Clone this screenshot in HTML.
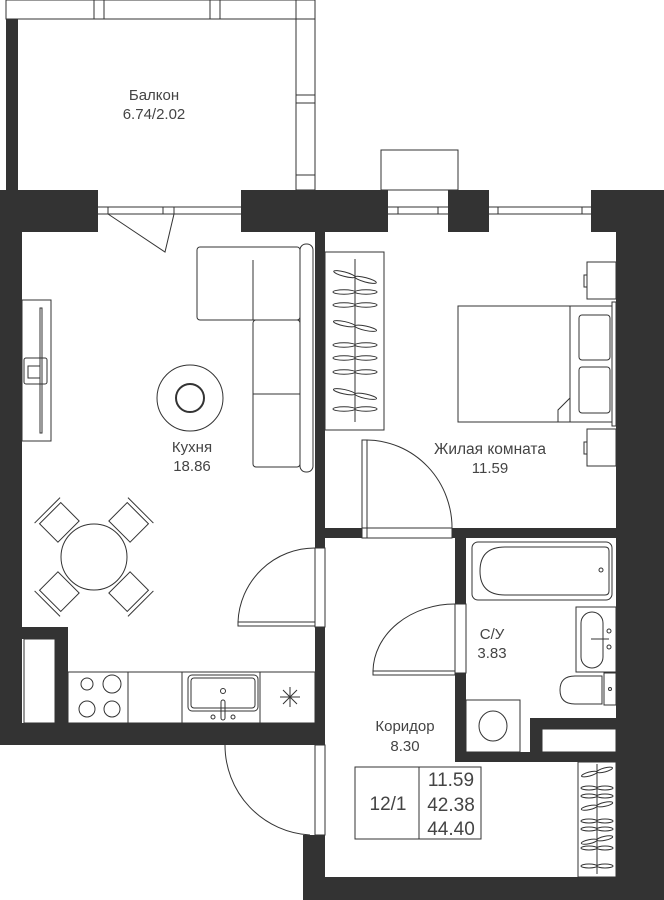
<!DOCTYPE html>
<html><head><meta charset="utf-8"><style>
html,body{margin:0;padding:0;background:#fff;}
svg{display:block;}
text{font-family:"Liberation Sans",sans-serif;fill:#444;text-anchor:middle;}
</style></head><body>
<svg width="664" height="900" viewBox="0 0 664 900" xmlns="http://www.w3.org/2000/svg">
<defs>
<g id="hg"><ellipse cx="-11" cy="0" rx="11" ry="2.2" fill="none" stroke="#333"/><ellipse cx="11" cy="0" rx="11" ry="2.2" fill="none" stroke="#333"/></g>
<g id="hs"><ellipse cx="-8" cy="0" rx="8" ry="2" fill="none" stroke="#333"/><ellipse cx="8" cy="0" rx="8" ry="2" fill="none" stroke="#333"/></g>
</defs>
<g fill="none" stroke="#333" stroke-width="1">
<rect x="6" y="0" width="309" height="19"/>
<line x1="94" y1="0" x2="94" y2="19"/><line x1="104" y1="0" x2="104" y2="19"/>
<line x1="210" y1="0" x2="210" y2="19"/><line x1="220" y1="0" x2="220" y2="19"/>
<rect x="296" y="0" width="19" height="190"/>
<line x1="296" y1="95" x2="315" y2="95"/><line x1="296" y1="103" x2="315" y2="103"/>
<line x1="296" y1="175" x2="315" y2="175"/>
<rect x="381" y="150" width="77" height="40"/>
</g>
<g fill="#333">
<rect x="6" y="19" width="12" height="171"/>
<rect x="0" y="190" width="98" height="42"/>
<rect x="241" y="190" width="147" height="42"/>
<rect x="448" y="190" width="41" height="42"/>
<rect x="591" y="190" width="73" height="42"/>
<rect x="0" y="190" width="22" height="555"/>
<rect x="22" y="627" width="46" height="12"/>
<rect x="55" y="627" width="13" height="96"/>
<rect x="0" y="723" width="325" height="22"/>
<rect x="315" y="232" width="10" height="316"/>
<rect x="315" y="627" width="10" height="96"/>
<rect x="315" y="528" width="47" height="10"/>
<rect x="452" y="528" width="164" height="10"/>
<rect x="455" y="538" width="11" height="66"/>
<rect x="455" y="673" width="11" height="89"/>
<rect x="455" y="752" width="161" height="10"/>
<rect x="530" y="718" width="12" height="34"/>
<rect x="530" y="718" width="86" height="11"/>
<rect x="616" y="190" width="48" height="710"/>
<rect x="303" y="835" width="22" height="65"/>
<rect x="303" y="877" width="361" height="23"/>
</g>
<g fill="#fff" stroke="#333" stroke-width="1">
<rect x="24" y="639" width="31" height="84"/>
<rect x="542" y="729" width="74" height="23"/>
</g>
<g fill="none" stroke="#333" stroke-width="1">
<line x1="98" y1="207" x2="241" y2="207"/><line x1="98" y1="214" x2="241" y2="214"/>
<line x1="108" y1="207" x2="108" y2="214"/><line x1="163" y1="207" x2="163" y2="214"/><line x1="174" y1="207" x2="174" y2="214"/>
<polyline points="108,214 165,252 174,214"/>
<line x1="388" y1="207" x2="448" y2="207"/><line x1="388" y1="214" x2="448" y2="214"/>
<line x1="398" y1="207" x2="398" y2="214"/><line x1="438" y1="207" x2="438" y2="214"/>
<line x1="489" y1="207" x2="591" y2="207"/><line x1="489" y1="214" x2="591" y2="214"/>
<line x1="498" y1="207" x2="498" y2="214"/><line x1="582" y1="207" x2="582" y2="214"/>
<rect x="197" y="247" width="103" height="73" rx="3"/>
<rect x="253" y="320" width="47" height="147" rx="3"/>
<line x1="253" y1="260" x2="253" y2="320"/>
<line x1="253" y1="394" x2="300" y2="394"/>
<rect x="300" y="244" width="13" height="228" rx="6"/>
<circle cx="190" cy="398" r="33"/>
<circle cx="190" cy="398" r="14" stroke-width="2"/>
<rect x="22" y="300" width="29" height="141"/>
<rect x="40" y="308" width="2" height="125"/>
<rect x="24" y="358" width="23" height="26" rx="2"/>
<rect x="28" y="366" width="12" height="12"/>
<rect x="325" y="252" width="59" height="178"/>
<line x1="355" y1="259" x2="355" y2="422"/>
<rect x="458" y="306" width="112" height="116"/>
<rect x="570" y="306" width="42" height="116"/>
<rect x="612" y="302" width="4" height="124"/>
<rect x="579" y="315" width="31" height="45" rx="3"/>
<rect x="579" y="367" width="31" height="46" rx="3"/>
<polyline points="558,422 558,410 570,398"/>
<rect x="587" y="262" width="29" height="37"/><rect x="584" y="275" width="3" height="12"/>
<rect x="587" y="429" width="29" height="37"/><rect x="584" y="442" width="3" height="12"/>
<rect x="362" y="440" width="5" height="98"/>
<path d="M367 440 A 86 88 0 0 1 452 530"/>
<rect x="362" y="528" width="90" height="10"/>
<rect x="238" y="622" width="77" height="4"/>
<path d="M238 622 A 77 77 0 0 1 315 548"/>
<rect x="315" y="548" width="10" height="79"/>
<rect x="373" y="671" width="82" height="4"/>
<path d="M373 671 A 82 68 0 0 1 455 604"/>
<rect x="455" y="604" width="11" height="69"/>
<path d="M225 745 A 90 90 0 0 0 310 835"/>
<rect x="315" y="745" width="10" height="90"/>
<g transform="translate(94 557)">
<g transform="rotate(-45)"><rect x="-15" y="-62" width="30" height="26"/><line x1="-18" y1="-66" x2="18" y2="-66"/></g>
<g transform="rotate(45)"><rect x="-15" y="-62" width="30" height="26"/><line x1="-18" y1="-66" x2="18" y2="-66"/></g>
<g transform="rotate(135)"><rect x="-15" y="-62" width="30" height="26"/><line x1="-18" y1="-66" x2="18" y2="-66"/></g>
<g transform="rotate(225)"><rect x="-15" y="-62" width="30" height="26"/><line x1="-18" y1="-66" x2="18" y2="-66"/></g>
</g>
<ellipse cx="94" cy="557" rx="33" ry="33" fill="#fff"/>
<rect x="68" y="672" width="247" height="51"/>
<line x1="128" y1="672" x2="128" y2="723"/><line x1="182" y1="672" x2="182" y2="723"/><line x1="260" y1="672" x2="260" y2="723"/>
<circle cx="87" cy="684" r="6"/><circle cx="112" cy="684" r="9"/><circle cx="87" cy="709" r="8"/><circle cx="112" cy="709" r="8"/>
<rect x="188" y="675" width="70" height="36" rx="4"/><rect x="191" y="678" width="64" height="30" rx="3"/>
<circle cx="223" cy="691" r="2.5"/><rect x="221" y="700" width="4" height="20" rx="2"/>
<circle cx="213" cy="717" r="2"/><circle cx="233" cy="717" r="2"/>
<path d="M280 697 L300 697 M290 687 L290 707 M283 690 L297 704 M297 690 L283 704"/>
<rect x="472" y="542" width="140" height="58" rx="6"/>
<path d="M505 547 L605 547 Q609 547 609 551 L609 591 Q609 595 605 595 L505 595 Q480 595 480 571 Q480 547 505 547 Z"/>
<circle cx="601" cy="570" r="2"/>
<rect x="576" y="607" width="40" height="65"/>
<rect x="581" y="612" width="22" height="56" rx="11"/>
<circle cx="609" cy="631" r="2"/><circle cx="609" cy="647" r="2"/>
<line x1="591" y1="639" x2="609" y2="639"/>
<rect x="604" y="673" width="12" height="32"/>
<path d="M602 676 L575 676 Q560 676 560 690 Q560 704 575 704 L602 704 Z"/>
<circle cx="610" cy="689" r="1.5"/>
<rect x="466" y="700" width="54" height="52"/>
<ellipse cx="493" cy="726" rx="14" ry="15"/>
<rect x="578" y="762" width="38" height="115"/>
<line x1="597" y1="764" x2="597" y2="874"/>
<rect x="355" y="767" width="126" height="72"/>
<line x1="419" y1="767" x2="419" y2="839"/>
</g>
<use href="#hg" transform="translate(355 277) rotate(15)"/>
<use href="#hg" transform="translate(355 292)"/>
<use href="#hg" transform="translate(355 305)"/>
<use href="#hg" transform="translate(355 326) rotate(12)"/>
<use href="#hg" transform="translate(355 345)"/>
<use href="#hg" transform="translate(355 358)"/>
<use href="#hg" transform="translate(355 372)"/>
<use href="#hg" transform="translate(355 394) rotate(12)"/>
<use href="#hg" transform="translate(355 409)"/>
<use href="#hs" transform="translate(597 772) rotate(-15)"/>
<use href="#hs" transform="translate(597 788)"/>
<use href="#hs" transform="translate(597 796)"/>
<use href="#hs" transform="translate(597 806) rotate(-12)"/>
<use href="#hs" transform="translate(597 821)"/>
<use href="#hs" transform="translate(597 829)"/>
<use href="#hs" transform="translate(597 840) rotate(-12)"/>
<use href="#hs" transform="translate(597 848)"/>
<use href="#hs" transform="translate(597 866)"/>
<text x="154" y="100" font-size="15">Балкон</text>
<text x="154" y="119" font-size="15">6.74/2.02</text>
<text x="192" y="452" font-size="15">Кухня</text>
<text x="192" y="471" font-size="15">18.86</text>
<text x="490" y="454" font-size="15.5">Жилая комната</text>
<text x="490" y="473" font-size="15">11.59</text>
<text x="492" y="639" font-size="15">С/У</text>
<text x="492" y="658" font-size="15">3.83</text>
<text x="405" y="731" font-size="15">Коридор</text>
<text x="405" y="751" font-size="15">8.30</text>
<text x="388" y="810" font-size="19">12/1</text>
<text x="451" y="786" font-size="19">11.59</text>
<text x="451" y="811" font-size="19">42.38</text>
<text x="451" y="835" font-size="19">44.40</text>
</svg>
</body></html>
